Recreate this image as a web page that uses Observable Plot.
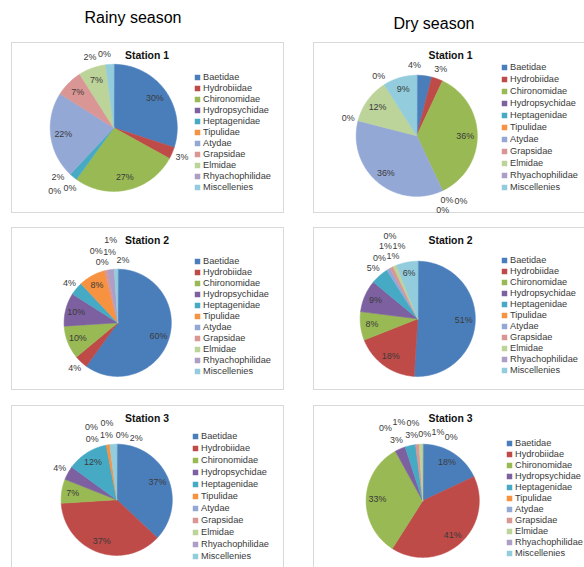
<!DOCTYPE html>
<html><head><meta charset="utf-8">
<script src="https://cdn.jsdelivr.net/npm/d3@7"></script>
<script src="https://cdn.jsdelivr.net/npm/@observablehq/plot@0.6"></script>
<style>
body{margin:0;background:#fff;}
#fig{position:relative;width:584px;height:567px;overflow:hidden;background:#fff;font-family:"Liberation Sans",Arial,sans-serif;}
.hdr{position:absolute;font-size:16px;line-height:16px;color:#000;transform:translateX(-50%);white-space:nowrap;}
.panel{position:absolute;border:1.5px solid #d9d9d9;box-sizing:border-box;}
.panel > div, .panel > svg{position:absolute;}
</style></head><body><div id="fig"></div>
<script>
// ---- data ----
const families = ["Baetidae","Hydrobiidae","Chironomidae","Hydropsychidae","Heptagenidae","Tipulidae","Atydae","Grapsidae","Elmidae","Rhyachophilidae","Miscellenies"];
const seasons = ["Rainy season","Dry season"];
const stations = ["Station 1","Station 2","Station 3"];
const rainyS1 = [30,3,27,0,2,0,22,7,7,0,2];
const dryS1   = [4,3,36,0,0,0,36,0,12,0,9];
const rainyS2 = [60,4,10,10,4,8,0,1,0,2,1];
const dryS2   = [51,18,8,9,5,0,1,1,1,0,6];
const rainyS3 = [37,37,7,4,12,1,0,0,0,0,2];
const dryS3   = [18,41,33,3,3,0,0,1,1,0,0];

// ---- styles ----
const colors = ["#4A7EBB","#BE4B48","#98B954","#7D60A0","#46AAC5","#F69240","#94A8D6","#DA9694","#BCD39A","#AD9EC8","#93CDDD"];
const FONT = "'Liberation Sans', Arial, sans-serif";

// ---- layout (pixels) ----
const layout = [
  {season:0, station:0, values:rainyS1, left:11,  top:42,  width:273, height:171, cx:103, cy:86,  r:64, legX:186, legY:35, legStep:11},
  {season:1, station:0, values:dryS1,   left:313, top:42,  width:276, height:171, cx:104, cy:94,  r:61, legX:191, legY:24, legStep:12.1},
  {season:0, station:1, values:rainyS2, left:11,  top:227, width:273, height:163, cx:107, cy:96,  r:54, legX:186, legY:30, legStep:11.8},
  {season:1, station:1, values:dryS2,   left:313, top:227, width:276, height:163, cx:105, cy:92,  r:58, legX:191, legY:30, legStep:11.5},
  {season:0, station:2, values:rainyS3, left:11,  top:405, width:273, height:170, cx:106, cy:95,  r:56, legX:184, legY:29, legStep:12.4},
  {season:1, station:2, values:dryS3,   left:313, top:405, width:276, height:170, cx:110, cy:96,  r:57, legX:196, legY:33, legStep:11.9}
];
const headers = [{x:133, y:10}, {x:434, y:16}];

const fig = document.getElementById("fig");
seasons.forEach((s,i) => {
  const d = document.createElement("div");
  d.className = "hdr"; d.textContent = s;
  d.style.left = headers[i].x + "px"; d.style.top = headers[i].y + "px";
  fig.appendChild(d);
});

function overlap(a,b){ return a.x0 < b.x1 && b.x0 < a.x1 && a.y0 < b.y1 && b.y0 < a.y1; }

// candidate displacements (radial dr px, angular da deg), sorted by size
const candidates = [];
for (let dr = 0; dr <= 48; dr += 4) for (let da = -30; da <= 30; da += 3) candidates.push({dr, da});

function buildLabels(arcs, p) {
  const r = p.r;
  const labels = [];
  const placed = [];
  const tx = p.width/2 - p.cx, ty = p.cy - 13;
  placed.push({x0:tx-27, x1:tx+27, y0:ty-7, y1:ty+7});
  arcs.forEach(a => {
    const v = a.data.value, m = (a.startAngle + a.endAngle)/2;
    if (v >= 6) labels.push({x:0.8*Math.sin(m), y:0.8*Math.cos(m), text: v + "%"});
  });
  arcs.forEach(a => {
    const v = a.data.value, m = (a.startAngle + a.endAngle)/2;
    if (v >= 6) return;
    const text = v + "%";
    const w = text.length*5 + 3, h = 9.5;
    const R0 = 1.17*r;
    const sorted = candidates.slice().sort((c1,c2) =>
      Math.hypot(c1.dr, (R0+c1.dr)*c1.da*Math.PI/180) - Math.hypot(c2.dr, (R0+c2.dr)*c2.da*Math.PI/180));
    let best = null;
    for (const c of sorted) {
      const ang = m + c.da*Math.PI/180, R = R0 + c.dr;
      const px = R*Math.sin(ang), py = R*Math.cos(ang);
      const box = {x0:px-w/2, x1:px+w/2, y0:py-h/2, y1:py+h/2};
      const nx = Math.max(box.x0, Math.min(0, box.x1)), ny = Math.max(box.y0, Math.min(0, box.y1));
      if (Math.hypot(nx, ny) < r + 1) continue;
      if (box.y1 > p.cy - 3) continue;
      if (placed.some(b => overlap(b, box))) continue;
      best = {px, py, box}; break;
    }
    if (!best) { best = {px:R0*Math.sin(m), py:R0*Math.cos(m), box:null}; }
    if (best.box) placed.push(best.box);
    labels.push({x: best.px/r, y: best.py/r, text});
  });
  return labels;
}

layout.forEach(p => {
  const rows = families.map((f,i) => ({family:f, value:p.values[i]}));
  const arcs = d3.pie().sort(null).value(d => d.value)(rows);
  const poly = [];
  arcs.forEach(a => {
    if (a.data.value <= 0) return;
    const n = Math.max(2, Math.ceil((a.endAngle - a.startAngle)/(Math.PI/180)));
    poly.push({family:a.data.family, x:0, y:0});
    for (let k = 0; k <= n; k++) {
      const t = a.startAngle + (a.endAngle - a.startAngle)*k/n;
      poly.push({family:a.data.family, x:Math.sin(t), y:Math.cos(t)});
    }
  });
  const labels = buildLabels(arcs, p);

  const panel = document.createElement("div");
  panel.className = "panel";
  Object.assign(panel.style, {left:p.left+"px", top:p.top+"px", width:p.width+"px", height:p.height+"px"});

  const pie = Plot.plot({
    width: p.width, height: p.height, margin: 0,
    x: {domain:[-1,1], range:[p.cx - p.r, p.cx + p.r], axis:null},
    y: {domain:[-1,1], range:[p.cy + p.r, p.cy - p.r], axis:null},
    color: {domain:families, range:colors},
    style: {fontFamily:FONT, background:"transparent", overflow:"visible"},
    marks: [
      Plot.line(poly, {x:"x", y:"y", z:"family", fill:"family", stroke:"family", strokeWidth:0.6, curve:"linear-closed"}),
      Plot.text(labels, {x:"x", y:"y", text:"text", fill:"#3a3a3a", fontSize:9}),
      Plot.text([stations[p.station]], {frameAnchor:"top", dy:13, text:d => d, fontWeight:"bold", fontSize:10.5, fill:"#111", lineAnchor:"middle"})
    ]
  });
  pie.style.left = "-1.5px"; pie.style.top = "-1.5px";
  panel.appendChild(pie);

  const legH = 10*p.legStep + 12;
  const leg = Plot.plot({
    width: 100, height: legH, margin: 0,
    x: {domain:[0,1], range:[3, 95], axis:null},
    y: {type:"point", padding:0, domain:families, range:[6, 6 + 10*p.legStep], axis:null},
    color: {domain:families, range:colors},
    style: {fontFamily:FONT, background:"transparent", overflow:"visible"},
    marks: [
      Plot.dot(families, {x:() => 0, y:d => d, fill:d => d, symbol:"square", r:3.1}),
      Plot.text(families, {x:() => 0, y:d => d, text:d => d, dx:5.5, textAnchor:"start", fill:"#3a3a3a", fontSize:9.2})
    ]
  });
  leg.style.left = (p.legX - 3 - 1.5) + "px"; leg.style.top = (p.legY - 6 - 1.5) + "px";
  panel.appendChild(leg);
  fig.appendChild(panel);
});
</script>
</body></html>
